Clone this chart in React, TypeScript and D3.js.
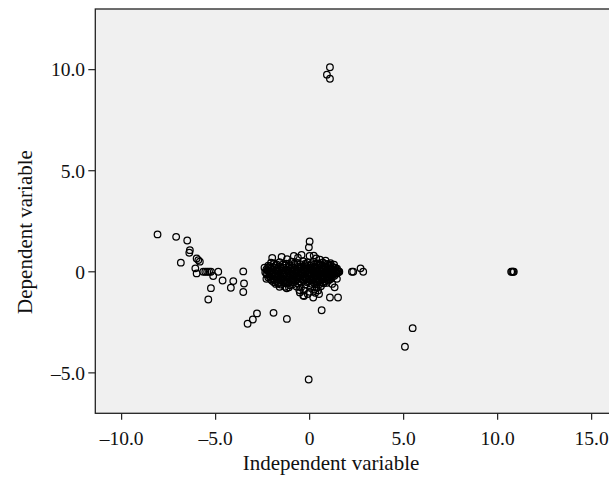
import React from "react";
import * as d3 from "d3";

const xTicks = [-10, -5, 0, 5, 10, 15];
const yTicks = [-5, 0, 5, 10];
const xTickLabels = ["\u201310.0", "\u20135.0", "0", "5.0", "10.0", "15.0"];
const yTickLabels = ["\u20135.0", "0", "5.0", "10.0"];
const xTitle = "Independent variable";
const yTitle = "Dependent variable";

// [independent, dependent]
const topOutliers: [number, number][] = [[1.08, 10.12], [0.92, 9.75], [1.08, 9.55]];
const farOutliers: [number, number][] = [[-0.05, -5.33], [5.07, -3.71], [5.48, -2.79]];
const rightGroup: [number, number][] = [[10.72, 0], [10.77, 0], [10.82, 0], [10.86, 0]];
const leftTail: [number, number][] = [
  [-8.09, 1.85], [-7.1, 1.73], [-6.51, 1.55], [-6.37, 1.07], [-6.4, 0.94], [-6.01, 0.66],
  [-5.92, 0.58], [-5.84, 0.5], [-6.85, 0.45], [-6.08, 0.17], [-6.01, -0.08], [-5.66, 0],
  [-5.55, 0], [-5.45, 0], [-5.35, 0], [-5.25, 0],
];
const leftMid: [number, number][] = [
  [-3.53, 0.02], [-3.49, -0.58], [-3.53, -1.0], [-4.06, -0.46], [-4.19, -0.79], [-4.63, -0.43],
  [-4.86, 0], [-5.13, -0.21], [-5.25, -0.81], [-5.39, -1.37],
];
const lowerLeft: [number, number][] = [[-3.3, -2.57], [-3.02, -2.36], [-2.8, -2.06], [-1.92, -2.03], [-1.21, -2.33]];
const clusterRim: [number, number][] = [
  [-1.99, 0.69], [-1.49, 0.74], [-0.84, 0.78], [-0.43, 0.83], [0.0, 0.78], [0.22, 0.8], [0.55, 0.6],
  [1.11, 0.43], [0.0, 1.5], [-0.04, 1.21], [-2.2, 0.3], [-2.05, 0.45],
  [-0.52, -1.02], [-0.34, -1.17], [0.19, -1.27], [0.3, -1.04], [0.0, -0.99], [-0.3, -1.2],
  [1.08, -1.27], [1.51, -1.27], [1.33, -0.77], [0.64, -1.9], [-1.67, -0.58], [-1.31, -0.74],
  [-1.05, -0.66], [-1.22, -0.82],
  [1.52, 0], [1.58, 0], [2.25, 0], [2.32, 0], [2.71, 0.17], [2.85, 0], [1.45, 0.08],
  [-0.62, 0.7], [-1.2, 0.62], [0.35, 0.66], [0.85, 0.55], [1.3, 0.35], [1.45, -0.35],
  [1.2, -0.6], [-0.1, -1.1], [0.5, -1.1], [-2.3, -0.35], [-2.4, 0.2],
];
const clusterCore: [number, number][] = [
  [-1.9, 0.42], [-1.6, 0.47], [-1.25, 0.4], [-0.95, 0.5], [-0.65, 0.44], [-0.35, 0.52], [-0.1, 0.46], [0.2, 0.5], [0.45, 0.41], [0.7, 0.46], [0.95, 0.38],
  [-2.1, 0.28], [-1.8, 0.32], [-1.55, 0.26], [-1.3, 0.31], [-1.05, 0.29], [-0.78, 0.34], [-0.5, 0.27], [-0.25, 0.33], [0.02, 0.3], [0.27, 0.26], [0.52, 0.32], [0.76, 0.28], [1.0, 0.3], [1.22, 0.24],
  [-2.3, 0.12], [-2.02, 0.17], [-1.76, 0.13], [-1.5, 0.18], [-1.24, 0.12], [-1.0, 0.16], [-0.78, 0.11], [-0.56, 0.17], [-0.34, 0.13], [-0.1, 0.18], [0.12, 0.14], [0.32, 0.17], [0.52, 0.12], [0.72, 0.16], [0.92, 0.13], [1.12, 0.17], [1.3, 0.12], [1.46, 0.15],
  [-2.36, -0.02], [-2.12, 0.02], [-1.9, -0.03], [-1.66, 0.01], [-1.42, -0.02], [-1.16, 0.03], [-0.92, -0.01], [-0.7, 0.02], [-0.46, -0.03], [-0.22, 0.01], [0.0, -0.02], [0.2, 0.02], [0.4, -0.01], [0.6, 0.03], [0.8, -0.02], [1.0, 0.01], [1.2, -0.03], [1.4, 0.02], [1.56, 0.0],
  [-2.26, -0.14], [-2.02, -0.18], [-1.8, -0.12], [-1.56, -0.17], [-1.32, -0.13], [-1.06, -0.18], [-0.84, -0.14], [-0.6, -0.17], [-0.38, -0.12], [-0.14, -0.16], [0.06, -0.13], [0.26, -0.18], [0.46, -0.14], [0.66, -0.17], [0.86, -0.12], [1.06, -0.16], [1.26, -0.13], [1.42, -0.1],
  [-2.2, -0.28], [-1.96, -0.32], [-1.72, -0.27], [-1.46, -0.33], [-1.2, -0.29], [-0.96, -0.31], [-0.72, -0.26], [-0.5, -0.32], [-0.26, -0.28], [-0.02, -0.33], [0.2, -0.27], [0.4, -0.31], [0.6, -0.29], [0.8, -0.33], [1.0, -0.27], [1.18, -0.3],
  [-2.0, -0.44], [-1.76, -0.47], [-1.5, -0.42], [-1.26, -0.48], [-1.0, -0.45], [-0.76, -0.43], [-0.52, -0.48], [-0.3, -0.44], [-0.06, -0.47], [0.16, -0.42], [0.36, -0.46], [0.56, -0.44], [0.8, -0.48], [1.0, -0.43],
  [-1.8, -0.6], [-1.54, -0.63], [-1.28, -0.57], [-0.9, -0.62], [-0.62, -0.58], [-0.22, -0.63], [0.1, -0.59], [0.3, -0.62], [0.54, -0.6], [0.76, -0.57],
  [-1.6, -0.74], [-1.1, -0.77], [-0.7, -0.73], [-0.46, -0.78], [0.06, -0.74], [0.36, -0.77], [0.6, -0.72],
  [-0.55, -0.9], [-0.3, -0.93], [0.25, -0.88], [0.45, -0.92],
];
const clusterFill: [number, number][] = [
  [-1.75, 0.37], [-1.42, 0.36], [-1.1, 0.39], [-0.82, 0.4], [-0.5, 0.38], [-0.22, 0.4], [0.08, 0.38], [0.34, 0.4], [0.58, 0.36], [0.84, 0.39], [1.1, 0.35],
  [-2.2, 0.22], [-1.9, 0.21], [-1.64, 0.23], [-1.38, 0.2], [-1.12, 0.23], [-0.88, 0.21], [-0.64, 0.24], [-0.42, 0.2], [-0.18, 0.23], [0.06, 0.21], [0.4, 0.22], [0.62, 0.24], [0.86, 0.2], [1.08, 0.23], [1.36, 0.2],
  [-2.24, 0.06], [-1.98, 0.08], [-1.72, 0.05], [-1.48, 0.07], [-1.2, 0.09], [-0.96, 0.06], [-0.72, 0.08], [-0.48, 0.05], [-0.28, 0.08], [-0.04, 0.06], [0.16, 0.08], [0.36, 0.05], [0.56, 0.07], [0.76, 0.09], [0.96, 0.05], [1.16, 0.08], [1.36, 0.06],
  [-2.3, -0.08], [-2.06, -0.07], [-1.82, -0.09], [-1.58, -0.06], [-1.34, -0.08], [-1.1, -0.07], [-0.86, -0.09], [-0.62, -0.06], [-0.36, -0.08], [-0.12, -0.07], [0.1, -0.09], [0.3, -0.06], [0.5, -0.08], [0.7, -0.07], [0.9, -0.09], [1.1, -0.06], [1.3, -0.08], [1.48, -0.05],
  [-2.12, -0.22], [-1.88, -0.23], [-1.64, -0.21], [-1.4, -0.24], [-1.14, -0.22], [-0.9, -0.21], [-0.66, -0.23], [-0.44, -0.22], [-0.2, -0.24], [0.02, -0.21], [0.34, -0.22], [0.54, -0.24], [0.74, -0.21], [0.94, -0.23], [1.14, -0.22], [1.32, -0.2],
  [-2.08, -0.37], [-1.84, -0.38], [-1.6, -0.36], [-1.36, -0.39], [-1.1, -0.37], [-0.86, -0.38], [-0.62, -0.36], [-0.38, -0.39], [-0.14, -0.37], [0.1, -0.38], [0.3, -0.37], [0.5, -0.39], [0.7, -0.36], [0.9, -0.38], [1.1, -0.37],
  [-1.9, -0.52], [-1.64, -0.53], [-1.4, -0.51], [-1.14, -0.54], [-0.84, -0.52], [-0.44, -0.53], [-0.12, -0.52], [0.22, -0.54], [0.44, -0.51], [0.66, -0.53], [0.9, -0.55],
];

const allPoints = [
  ...topOutliers, ...farOutliers, ...rightGroup, ...leftTail, ...leftMid,
  ...lowerLeft, ...clusterRim, ...clusterCore, ...clusterFill,
];

const W = 609;
const H = 477;
const PL = 95.3;
const PT = 9;
const PB = 413.3;
const PR = 609.5;

export default function App() {
  const x = d3.scaleLinear().domain([-11.4, 15.95]).range([PL, PR]);
  const y = d3.scaleLinear().domain([-7, 13]).range([PB, PT]);
  const font = "'Liberation Serif', 'Times New Roman', serif";
  return (
    <svg width={W} height={H} style={{ position: "absolute", left: 0, top: 0, background: "#fff" }}>
      <rect x={PL} y={PT} width={PR - PL + 2} height={PB - PT} fill="#f0f0f0" stroke="#222" strokeWidth={1.3} />
      {xTicks.map((t, i) => (
        <g key={"x" + t}>
          <line x1={x(t)} x2={x(t)} y1={PB} y2={PB + 6.5} stroke="#222" strokeWidth={1.2} />
          <text x={x(t)} y={445} textAnchor="middle" fontFamily={font} fontSize={19.5} fill="#111">
            {xTickLabels[i]}
          </text>
        </g>
      ))}
      {yTicks.map((t, i) => (
        <g key={"y" + t}>
          <line x1={PL - 7} x2={PL} y1={y(t)} y2={y(t)} stroke="#222" strokeWidth={1.2} />
          <text x={85} y={y(t) + 6.8} textAnchor="end" fontFamily={font} fontSize={19.5} fill="#111">
            {yTickLabels[i]}
          </text>
        </g>
      ))}
      <text x={331} y={470} textAnchor="middle" fontFamily={font} fontSize={21} fill="#111">
        {xTitle}
      </text>
      <text
        transform={`translate(32,232) rotate(-90)`}
        textAnchor="middle"
        fontFamily={font}
        fontSize={21}
        fill="#111"
      >
        {yTitle}
      </text>
      <g>
        {allPoints.map((p, i) => (
          <circle key={i} cx={x(p[0])} cy={y(p[1])} r={3.3} fill="none" stroke="#000" strokeWidth={1.25} />
        ))}
      </g>
    </svg>
  );
}
